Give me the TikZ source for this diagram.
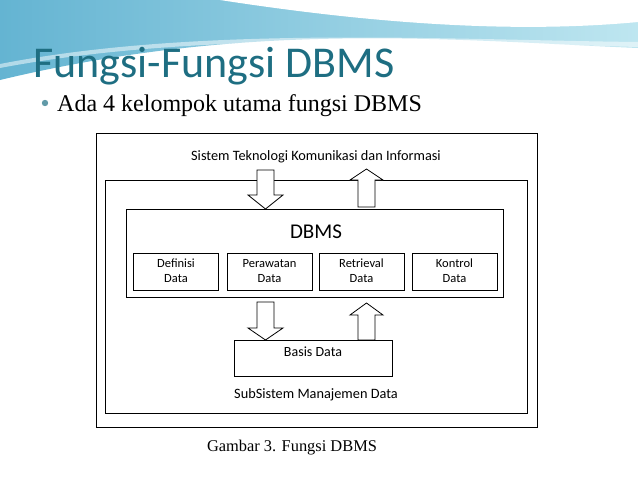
\documentclass[tikz,border=0pt]{standalone}
\usepackage{fontspec}
\setmainfont{Liberation Serif}
\newfontfamily\calib{Carlito}
\definecolor{teal1}{RGB}{30,110,130}
\definecolor{sky1}{RGB}{100,180,210}
\definecolor{sky2}{RGB}{190,230,240}
\tikzset{
  box/.style={draw, line width=.8pt},
  fbox/.style={box, minimum width=85pt, minimum height=37pt, align=center,
               font=\calib\fontsize{12.5}{15}\selectfont},
  bigarrow/.style={draw, fill=white, line width=.8pt}
}
\begin{document}
\begin{tikzpicture}[x=1pt,y=-1pt]
  \useasboundingbox (0,0) rectangle (638,479);
  % header
  \shade[left color=sky1, right color=sky2] (0,0) -- (638,0) -- (638,48)
     .. controls (450,40) and (250,20) .. (0,80) -- cycle;
  \fill[white] (220,0) .. controls (350,20) and (500,35) .. (638,22) -- (638,0) -- cycle;
  \fill[white,opacity=.5] (0,64) .. controls (200,25) and (450,40) .. (638,42)
     -- (638,47) .. controls (450,42) and (200,30) .. (0,68) -- cycle;
  % title
  \node[anchor=base west, text=teal1, font=\calib\fontsize{44}{44}\selectfont, inner sep=0]
    (title) at (33,77) {Fungsi-Fungsi DBMS};
  \fill[teal1!70] (45,103) circle (3.2);
  \node[anchor=base west, font=\fontsize{24}{24}\selectfont, inner sep=0]
    (intro) at (57,111) {Ada 4 kelompok utama fungsi DBMS};
  % frames
  \draw[box] (96,133) rectangle (537,427);
  \draw[box] (105,180) rectangle (527,413);
  \node[font=\calib\fontsize{14.3}{14}\selectfont] (stki) at (316,157)
    {Sistem Teknologi Komunikasi dan Informasi};
  \node[font=\calib\fontsize{14.3}{14}\selectfont] (subsis) at (316,395)
    {SubSistem Manajemen Data};
  % arrows
  \draw[bigarrow] (257,170) -- (274,170) -- (274,195) -- (283,195) -- (265.5,209)
    -- (248,195) -- (257,195) -- cycle;
  \draw[bigarrow] (358,207) -- (375,207) -- (375,180) -- (383,180) -- (366.5,169)
    -- (350,180) -- (358,180) -- cycle;
  \draw[bigarrow] (257,302) -- (274,302) -- (274,328) -- (283,328) -- (265.5,340)
    -- (248,328) -- (257,328) -- cycle;
  \draw[bigarrow] (358,340) -- (375,340) -- (375,315) -- (383,315) -- (366.5,303)
    -- (350,315) -- (358,315) -- cycle;
  % DBMS
  \draw[box, fill=white] (126,209) rectangle (503,297);
  \node[font=\calib\fontsize{21}{21}\selectfont] (dbms) at (316,232) {DBMS};
  \foreach \x/\name/\txt in {176/def/Definisi, 269.5/rawat/Perawatan,
                             361.5/retr/Retrieval, 454.5/ktrl/Kontrol}
    \node[fbox] (\name) at (\x,271.5) {\strut\txt\\\strut Data};
  \node[box, minimum width=158pt, minimum height=36pt, anchor=north,
        font=\calib\fontsize{14}{14}\selectfont, text depth=14pt]
    (basis) at (313,340) {Basis Data};
  \node[font=\fontsize{16.4}{16}\selectfont] (cap) at (292,448) {Gambar 3. Fungsi DBMS};
\end{tikzpicture}
\end{document}
